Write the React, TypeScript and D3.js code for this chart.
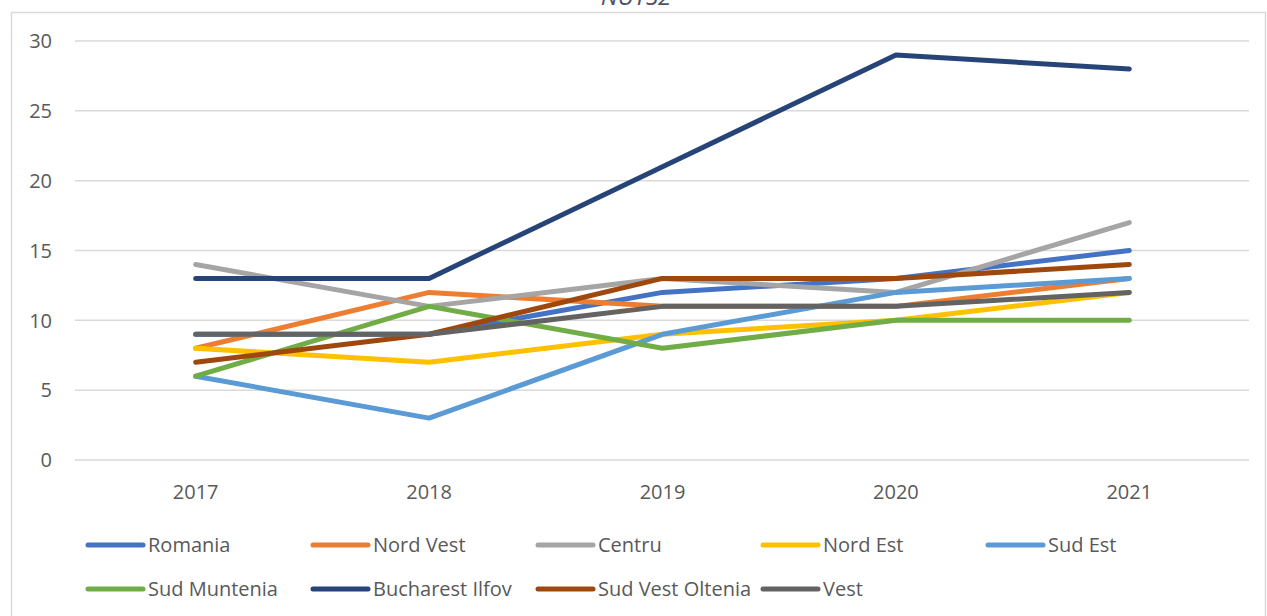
import React, { useRef, useEffect } from "react";
import * as d3 from "d3";

// categories & values
const years = ["2017", "2018", "2019", "2020", "2021"];
const regions = [
  "Romania",
  "Nord Vest",
  "Centru",
  "Nord Est",
  "Sud Est",
  "Sud Muntenia",
  "Bucharest Ilfov",
  "Sud Vest Oltenia",
  "Vest",
];
const romania = [9, 9, 12, 13, 15];
const nordVest = [8, 12, 11, 11, 13];
const centru = [14, 11, 13, 12, 17];
const nordEst = [8, 7, 9, 10, 12];
const sudEst = [6, 3, 9, 12, 13];
const sudMuntenia = [6, 11, 8, 10, 10];
const bucharestIlfov = [13, 13, 21, 29, 28];
const sudVestOltenia = [7, 9, 13, 13, 14];
const vest = [9, 9, 11, 11, 12];
const yTicks = [0, 5, 10, 15, 20, 25, 30];

const seriesValues = [
  romania, nordVest, centru, nordEst, sudEst,
  sudMuntenia, bucharestIlfov, sudVestOltenia, vest,
];
const colors = [
  "#4472C4", "#ED7D31", "#A5A5A5", "#FFC000", "#5B9BD5",
  "#70AD47", "#264478", "#9E480E", "#636363",
];

const W = 1267;
const H = 616;
const font = "'Open Sans', sans-serif";

export default function App() {
  const svgRef = useRef<SVGSVGElement>(null);

  useEffect(() => {
    const svg = d3.select(svgRef.current);
    svg.selectAll("*").remove();

    // chart frame
    svg.append("rect")
      .attr("x", 11.5).attr("y", 12.5)
      .attr("width", W - 13).attr("height", H)
      .attr("fill", "#fff")
      .attr("stroke", "#d9d9d9")
      .attr("stroke-width", 1.5);

    // title, cut off at the top like the source
    svg.append("text")
      .attr("x", 636).attr("y", 5)
      .attr("text-anchor", "middle")
      .attr("font-family", font)
      .attr("font-size", 24)
      .attr("font-style", "italic")
      .attr("fill", "#4a5464")
      .text("NUTS2");

    const x = d3.scaleBand().domain(years).range([79, 1246]);
    const y = d3.scaleLinear().domain([0, 30]).range([460, 41]);

    // gridlines
    svg.append("g")
      .selectAll("line")
      .data(yTicks)
      .join("line")
      .attr("x1", 75).attr("x2", 1249)
      .attr("y1", (d) => y(d)).attr("y2", (d) => y(d))
      .attr("stroke", "#d9d9d9")
      .attr("stroke-width", 1.5);

    // y labels
    svg.append("g")
      .selectAll("text")
      .data(yTicks)
      .join("text")
      .attr("x", 52)
      .attr("y", (d) => y(d))
      .attr("dy", "0.36em")
      .attr("text-anchor", "end")
      .attr("font-family", font)
      .attr("font-size", 20)
      .attr("fill", "#595959")
      .text((d) => d);

    // x labels
    svg.append("g")
      .selectAll("text")
      .data(years)
      .join("text")
      .attr("x", (d) => (x(d) as number) + x.bandwidth() / 2)
      .attr("y", 499)
      .attr("text-anchor", "middle")
      .attr("font-family", font)
      .attr("font-size", 20)
      .attr("fill", "#595959")
      .text((d) => d);

    const line = d3.line<number>()
      .x((_, i) => (x(years[i]) as number) + x.bandwidth() / 2)
      .y((d) => y(d));

    svg.append("g")
      .selectAll("path")
      .data(seriesValues)
      .join("path")
      .attr("d", (d) => line(d))
      .attr("fill", "none")
      .attr("stroke", (_, i) => colors[i])
      .attr("stroke-width", 5)
      .attr("stroke-linecap", "round")
      .attr("stroke-linejoin", "round");

    // legend, 5 per row
    const lg = svg.append("g")
      .selectAll("g")
      .data(regions)
      .join("g")
      .attr("transform", (_, i) => `translate(${88 + (i % 5) * 225},${545 + Math.floor(i / 5) * 44})`);
    lg.append("line")
      .attr("x1", 0).attr("x2", 55)
      .attr("stroke", (_, i) => colors[i])
      .attr("stroke-width", 5)
      .attr("stroke-linecap", "round");
    lg.append("text")
      .attr("x", 60)
      .attr("dy", "0.36em")
      .attr("font-family", font)
      .attr("font-size", 20)
      .attr("fill", "#595959")
      .text((d) => d);
  }, []);

  return (
    <svg
      ref={svgRef}
      width={W}
      height={H}
      style={{ position: "absolute", left: 0, top: 0, background: "#fff" }}
    />
  );
}
